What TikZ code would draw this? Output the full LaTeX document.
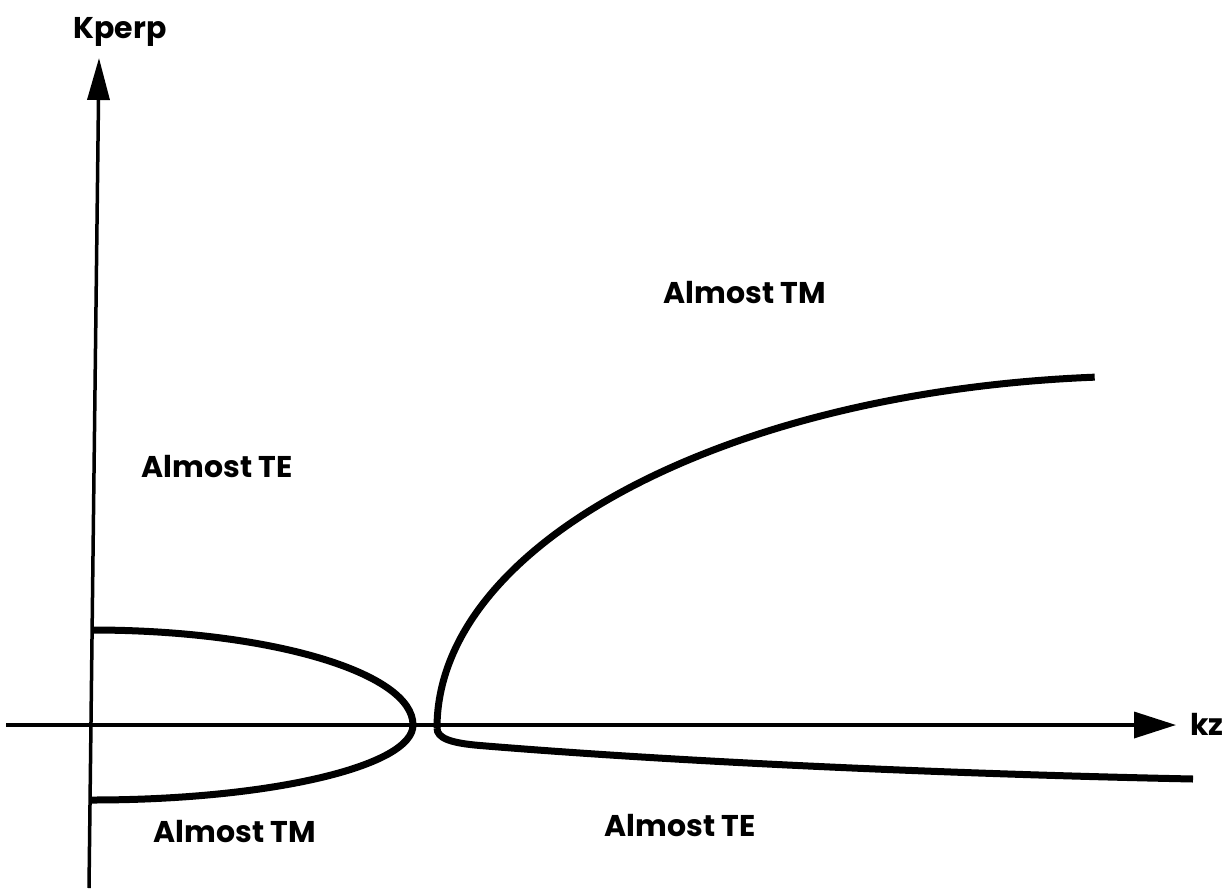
\documentclass[tikz,border=0pt]{standalone}
\usepackage{fontspec}
\setmainfont{Poppins}
\usetikzlibrary{arrows.meta}
\begin{document}
\begin{tikzpicture}[x=1pt,y=-1pt,
  axisline/.style={line width=3.5pt,-{Triangle[length=42pt,width=26pt]}},
  branch/.style={line width=7pt,line cap=butt},
  lbl/.style={font=\bfseries\fontsize{30}{36}\selectfont,inner sep=0pt}]
\useasboundingbox (0,0) rectangle (1225,888);
% axes
\coordinate (xstart) at (6,725);
\coordinate (xend) at (1176,725);
\coordinate (ystart) at (89,888);
\coordinate (yend) at (99,58);
\draw[axisline] (xstart) -- (xend);
\draw[axisline,-{Triangle[length=42pt,width=22pt]}] (ystart) -- (yend);
\node[lbl] (kperp) at (120,32) {Kperp};
\node[lbl,anchor=west] (kz) at (1190,724) {kz};
% almost-TE loop crossing k_z axis
\coordinate (teTop) at (92,630);
\draw[branch] (teTop) arc[start angle=90,end angle=0,x radius=321pt,y radius=95pt]
  coordinate (teNose)
  arc[start angle=0,end angle=-90,x radius=321pt,y radius=75pt];
% almost-TM branch and the lower almost-TE branch
\coordinate (tmFoot) at (437,728);
\draw[branch] (tmFoot) arc[start angle=180,end angle=94.6,x radius=715pt,y radius=352pt];
\coordinate (teEnd) at (1193,779);
\draw[branch] (tmFoot) .. controls (437,738) and (450,743) .. (480,745.5)
  .. controls (680,762) and (950,774) .. (teEnd);
% region labels
\node[lbl] (tmUp) at (745,293) {Almost TM};
\node[lbl] (teLeft) at (217,467) {Almost TE};
\node[lbl] (tmLow) at (235,832) {Almost TM};
\node[lbl] (teLow) at (680,826) {Almost TE};
\end{tikzpicture}
\end{document}
